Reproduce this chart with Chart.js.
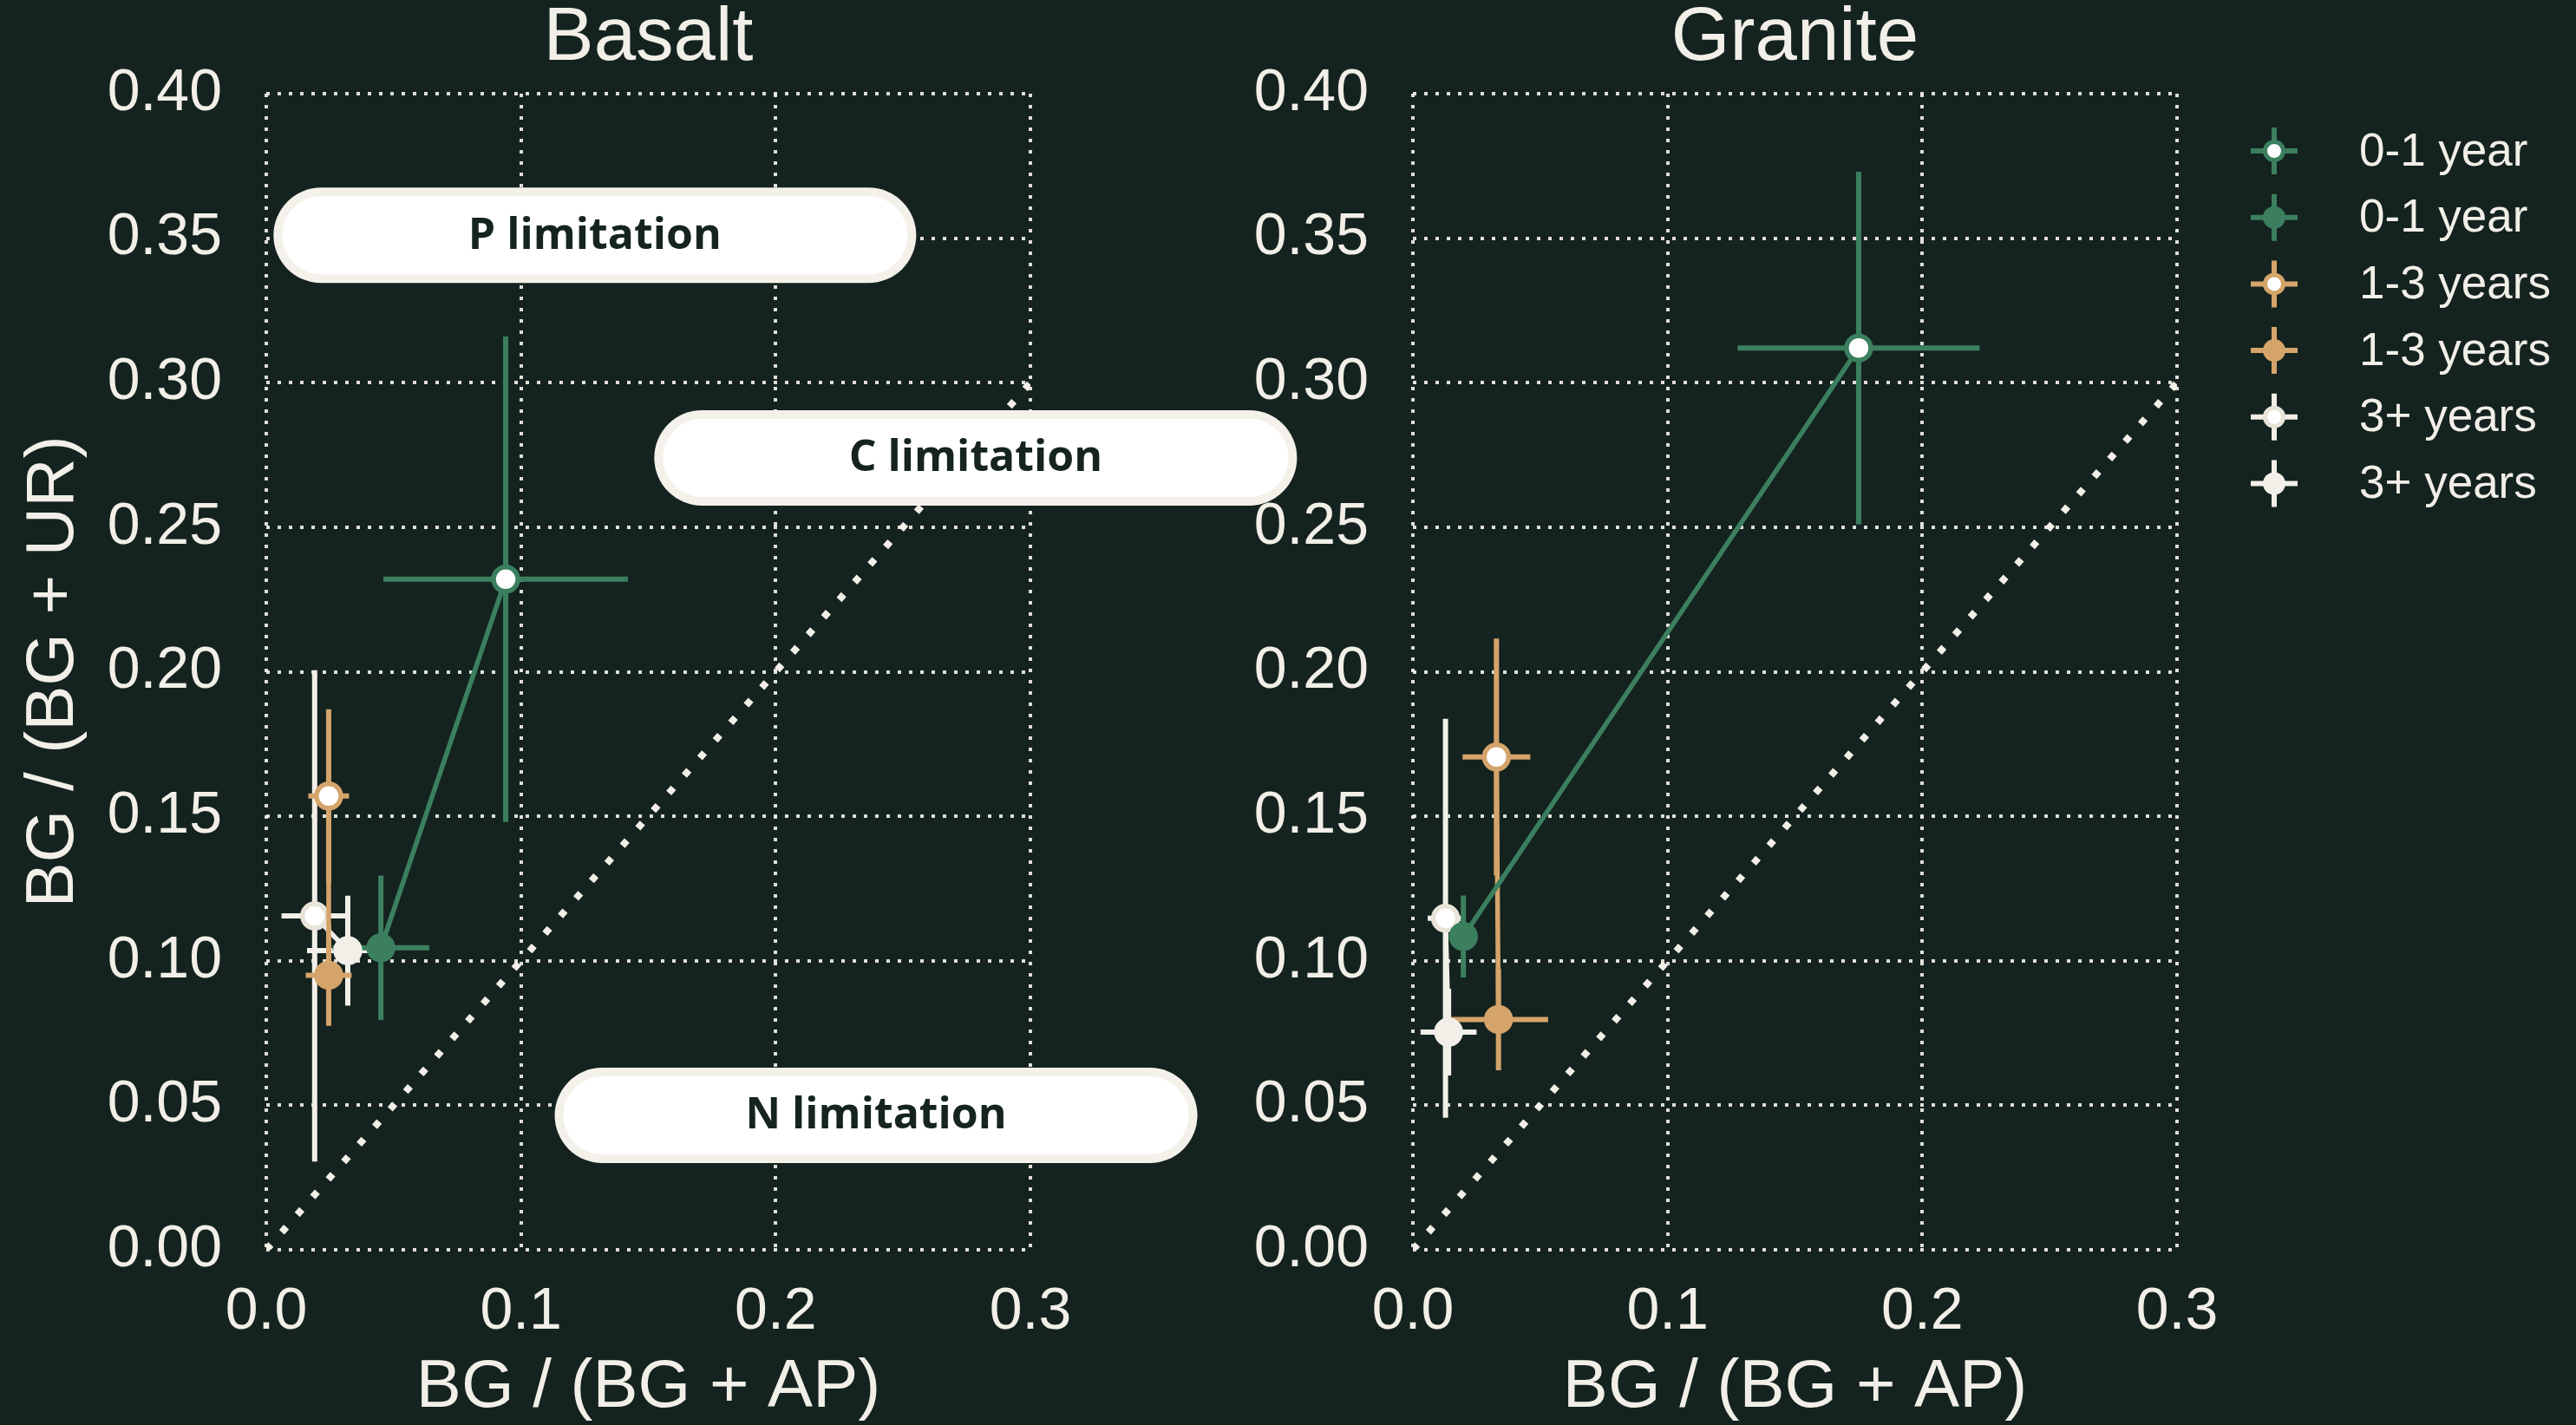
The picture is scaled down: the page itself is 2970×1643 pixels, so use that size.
<!DOCTYPE html>
<html lang="en">
<head>
<meta charset="UTF-8">
<title>Enzyme ratios – Basalt and Granite</title>
<script src="https://cdn.jsdelivr.net/npm/chart.js"></script>
<style>
  html, body { margin: 0; padding: 0; background: #14231f; }
  body { width: 2970px; height: 1643px; position: relative; overflow: hidden; }
  #basalt { position: absolute; left: 0; top: 0; z-index: 2; }
  #granite { position: absolute; left: 1400px; top: 0; z-index: 1; }
</style>
</head>
<body>
<canvas id="basalt" width="1520" height="1643"></canvas>
<canvas id="granite" width="1570" height="1643"></canvas>
<script>
// ---- data ----
const ageGroups = ['0-1 year', '1-3 years', '3+ years'];
const xTicks = [0, 0.1, 0.2, 0.3];
const yTicks = [0, 0.05, 0.10, 0.15, 0.20, 0.25, 0.30, 0.35, 0.40];
const oneToOne = [0, 0.3];

// Basalt, open markers
const basaltOpenX    = [0.094, 0.0245, 0.019];
const basaltOpenY    = [0.232, 0.157, 0.1155];
const basaltOpenXErr = [0.048, 0.008, 0.013];
const basaltOpenYErr = [0.084, 0.030, 0.085];
// Basalt, filled markers
const basaltFilledX    = [0.045, 0.0245, 0.032];
const basaltFilledY    = [0.1045, 0.095, 0.1035];
const basaltFilledXErr = [0.019, 0.009, 0.016];
const basaltFilledYErr = [0.025, 0.0175, 0.019];

// Granite, open markers
const graniteOpenX    = [0.175, 0.0328, 0.0128];
const graniteOpenY    = [0.312, 0.1705, 0.1147];
const graniteOpenXErr = [0.0475, 0.0133, 0.007];
const graniteOpenYErr = [0.061, 0.041, 0.069];
// Granite, filled markers
const graniteFilledX    = [0.0198, 0.0336, 0.014];
const graniteFilledY    = [0.1084, 0.0797, 0.0753];
const graniteFilledXErr = [0.004, 0.0195, 0.011];
const graniteFilledYErr = [0.0142, 0.0176, 0.015];

const limitationLabels = ['P limitation', 'C limitation', 'N limitation'];

// ---- styling ----
const CREAM = '#f2efe8';
const INK = '#15241f';
const colors = ['#3b7f5f', '#d5a46b', '#f2efe8'];
const openBorder = ['#3b7f5f', '#d5a46b', '#e9e4d9'];
const FONT = '"Liberation Sans", Arial, sans-serif';
// where the pills sit, in data units of the Basalt panel
const pillAnchors = [[0.129, 0.351], [0.2785, 0.274], [0.2394, 0.0465]];

Chart.defaults.font.family = FONT;
Chart.defaults.color = CREAM;

const errorBars = {
  id: 'errorBars',
  beforeDatasetsDraw(chart) {
    const {ctx, scales: {x, y}} = chart;
    ctx.save();
    ctx.lineWidth = 6;
    ctx.lineCap = 'butt';
    chart.data.datasets.slice().reverse().forEach(ds => {
      if (!ds.withErrors) return;
      ctx.strokeStyle = ds.borderColor;
      ds.data.forEach(p => {
        ctx.beginPath();
        ctx.moveTo(x.getPixelForValue(p.x - p.xErr), y.getPixelForValue(p.y));
        ctx.lineTo(x.getPixelForValue(p.x + p.xErr), y.getPixelForValue(p.y));
        ctx.moveTo(x.getPixelForValue(p.x), y.getPixelForValue(p.y - p.yErr));
        ctx.lineTo(x.getPixelForValue(p.x), y.getPixelForValue(p.y + p.yErr));
        ctx.stroke();
      });
    });
    ctx.restore();
  }
};

const pills = {
  id: 'pills',
  afterDraw(chart) {
    const {ctx, scales: {x, y}} = chart;
    const w = 741, h = 110;
    ctx.save();
    limitationLabels.forEach((txt, i) => {
      const cx = x.getPixelForValue(pillAnchors[i][0]);
      const cy = y.getPixelForValue(pillAnchors[i][1]);
      ctx.fillStyle = '#f4f1ea';
      ctx.beginPath();
      ctx.roundRect(cx - w / 2, cy - h / 2, w, h, h / 2);
      ctx.fill();
      ctx.fillStyle = '#ffffff';
      ctx.beginPath();
      ctx.roundRect(cx - w / 2 + 10, cy - h / 2 + 10, w - 20, h - 20, (h - 20) / 2);
      ctx.fill();
      ctx.fillStyle = INK;
      ctx.font = 'bold 50px "Open Sans", "Noto Sans", sans-serif';
      ctx.textAlign = 'center';
      ctx.textBaseline = 'middle';
      ctx.fillText(txt, cx, cy + 1);
    });
    ctx.restore();
  }
};

const legendBox = {
  id: 'legendBox',
  afterDraw(chart) {
    const {ctx, chartArea} = chart;
    ctx.save();
    ctx.font = '53px ' + FONT;
    ctx.textBaseline = 'middle';
    ctx.textAlign = 'left';
    let row = 0;
    ageGroups.forEach((label, g) => {
      [true, false].forEach(isOpen => {
        const cx = chartArea.right + 112;
        const cy = chartArea.top + 66 + row * 76.7;
        ctx.strokeStyle = colors[g];
        ctx.lineWidth = 6;
        ctx.beginPath();
        ctx.moveTo(cx - 27, cy); ctx.lineTo(cx + 27, cy);
        ctx.moveTo(cx, cy - 27); ctx.lineTo(cx, cy + 27);
        ctx.stroke();
        ctx.beginPath();
        ctx.arc(cx, cy, isOpen ? 10.5 : 13, 0, Math.PI * 2);
        ctx.fillStyle = isOpen ? '#ffffff' : colors[g];
        ctx.fill();
        if (isOpen) {
          ctx.lineWidth = 5;
          ctx.strokeStyle = openBorder[g];
          ctx.stroke();
        }
        ctx.fillStyle = CREAM;
        ctx.fillText(label, chartArea.right + 210, cy + 2);
        row++;
      });
    });
    ctx.restore();
  }
};

function seriesData(xs, ys, xe, ye, i) {
  return {x: xs[i], y: ys[i], xErr: xe[i], yErr: ye[i]};
}

function makePanel(canvasId, title, open, filled, opts) {
  const datasets = ageGroups.map((label, i) => ({
    label: label,
    withErrors: true,
    data: [
      seriesData(open[0], open[1], open[2], open[3], i),
      seriesData(filled[0], filled[1], filled[2], filled[3], i)
    ],
    showLine: true,
    borderColor: colors[i],
    borderWidth: 5.5,
    pointBackgroundColor: ['#ffffff', colors[i]],
    pointBorderColor: [openBorder[i], colors[i]],
    pointBorderWidth: 5.5,
    pointRadius: [14, 14],
    order: i
  }));
  datasets.push({
    label: '1:1',
    data: oneToOne.map(v => ({x: v, y: v})),
    showLine: true,
    borderColor: CREAM,
    borderWidth: 8,
    borderDash: [8, 19],
    pointRadius: 0,
    order: 10
  });

  const gridOpts = { color: 'rgba(242,239,232,0.92)', lineWidth: 4, drawTicks: false };
  const borderOpts = { display: false, dash: [4, 9] };

  return new Chart(document.getElementById(canvasId), {
    type: 'scatter',
    data: { datasets: datasets },
    plugins: opts.plugins,
    options: {
      responsive: false,
      animation: false,
      events: [],
      devicePixelRatio: 1,
      layout: { padding: { left: 0, right: opts.padRight, top: 0, bottom: 0 } },
      plugins: {
        legend: { display: false },
        tooltip: { enabled: false },
        title: {
          display: true,
          text: title,
          color: CREAM,
          fullSize: false,
          font: { size: 87, weight: 'normal', lineHeight: 1 },
          padding: { top: 2, bottom: 19 }
        }
      },
      scales: {
        x: {
          type: 'linear',
          min: 0, max: 0.3,
          afterBuildTicks: s => { s.ticks = xTicks.map(v => ({value: v})); },
          afterFit: s => { s.height = 202; },
          ticks: { callback: v => v.toFixed(1), font: { size: 68 }, color: CREAM, padding: 31, maxRotation: 0 },
          grid: gridOpts,
          border: borderOpts,
          title: {
            display: true, text: 'BG / (BG + AP)', color: CREAM,
            font: { size: 78, lineHeight: 1 }, padding: { top: 0, bottom: 4 }
          }
        },
        y: {
          type: 'linear',
          min: 0, max: 0.4,
          afterBuildTicks: s => { s.ticks = yTicks.map(v => ({value: v})); },
          afterFit: s => { s.width = opts.yWidth; },
          ticks: { callback: v => v.toFixed(2), font: { size: 68 }, color: CREAM, padding: 51 },
          grid: gridOpts,
          border: borderOpts,
          title: {
            display: opts.yTitle, text: 'BG / (BG + UR)', color: CREAM,
            font: { size: 78, lineHeight: 1 }, padding: { top: 23, bottom: 0 }
          }
        }
      }
    }
  });
}

makePanel('basalt', 'Basalt',
  [basaltOpenX, basaltOpenY, basaltOpenXErr, basaltOpenYErr],
  [basaltFilledX, basaltFilledY, basaltFilledXErr, basaltFilledYErr],
  { padRight: 332, yWidth: 307, yTitle: true, plugins: [errorBars, pills] });

makePanel('granite', 'Granite',
  [graniteOpenX, graniteOpenY, graniteOpenXErr, graniteOpenYErr],
  [graniteFilledX, graniteFilledY, graniteFilledXErr, graniteFilledYErr],
  { padRight: 460, yWidth: 229, yTitle: false, plugins: [errorBars, legendBox] });
</script>
</body>
</html>
